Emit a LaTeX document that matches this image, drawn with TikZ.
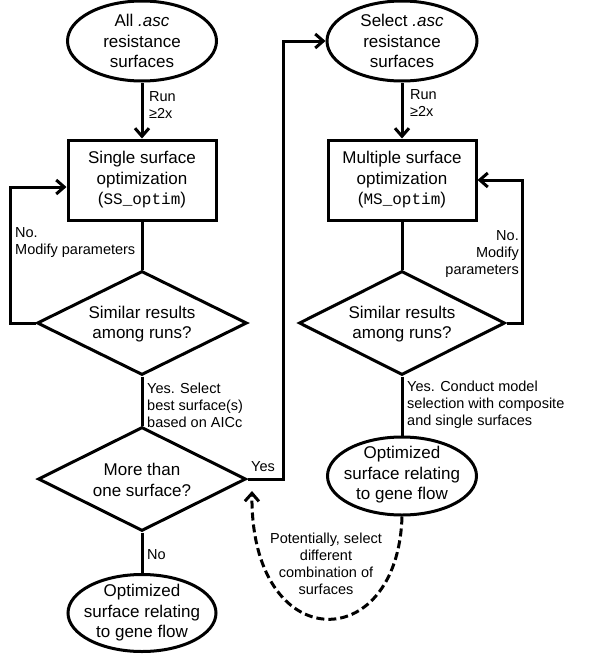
\documentclass[tikz,border=0pt]{standalone}
\usepackage{fontspec}
\setmainfont{Liberation Sans}
\setmonofont{Liberation Mono}
\usetikzlibrary{shapes.geometric,arrows.meta}
\newcommand\mycode[1]{{\fontsize{16}{20.5}\selectfont\ttfamily #1}}
\begin{document}
\begin{tikzpicture}[x=1pt,y=-1pt,
  lw/.style={line width=3pt},
  oval/.style={draw,lw,ellipse,inner sep=0pt},
  procbox/.style={draw,lw,rectangle,minimum width=148pt,minimum height=80pt,inner sep=0pt,align=center,font=\fontsize{17}{20.5}\selectfont},
  decision/.style={draw,lw,diamond,inner sep=0pt,shape aspect=2},
  maintext/.style={align=center,font=\fontsize{17}{20.5}\selectfont,inner sep=0pt},
  lbl/.style={font=\fontsize{14.5}{17}\selectfont,inner sep=0pt},
  flow/.style={lw,-{Straight Barb[length=8pt,width=14pt]}},
  link/.style={lw},
  ]
\useasboundingbox (0,0) rectangle (591,656);
% left column
\node[oval,minimum width=149pt,minimum height=80pt] (e1) at (142,41) {};
\node[maintext] (e1t) at (142,41) {All \textit{.asc}\\resistance\\surfaces};
\node[procbox] (b1) at (142,180) {Single surface\\optimization\\(\mycode{SS\_optim})};
\node[decision,minimum width=210pt,minimum height=104pt] (d1) at (142,323) {};
\node[maintext] (d1t) at (142,324) {Similar results\\among runs?};
\node[decision,minimum width=208pt,minimum height=104pt] (d2) at (142,479) {};
\node[maintext] (d2t) at (142,480) {More than\\one surface?};
\node[oval,minimum width=148pt,minimum height=77pt] (e3) at (142,613) {};
\node[maintext] (e3t) at (142,613) {Optimized\\surface relating\\to gene flow};
% right column
\node[oval,minimum width=150pt,minimum height=80pt] (e2) at (402,41) {};
\node[maintext] (e2t) at (402,41) {Select \textit{.asc}\\resistance\\surfaces};
\node[procbox] (b2) at (402,180) {Multiple surface\\optimization\\(\mycode{MS\_optim})};
\node[decision,minimum width=206pt,minimum height=104pt] (d3) at (402,323) {};
\node[maintext] (d3t) at (402,324) {Similar results\\among runs?};
\node[oval,minimum width=149pt,minimum height=78pt] (e4) at (402,476) {};
\node[maintext] (e4t) at (402,475) {Optimized\\surface relating\\to gene flow};
% connectors
\draw[flow] (e1) -- (b1);
\draw[link] (b1) -- (d1);
\draw[link] (d1) -- (d2);
\draw[link] (d2) -- (e3);
\draw[flow] (e2) -- (b2);
\draw[link] (b2) -- (d3);
\draw[link] (d3) -- (e4);
\coordinate (lp) at (10,187);
\draw[flow] (d1.west) -| (lp) -- (lp -| b1.west);
\coordinate (rp) at (522,180);
\draw[flow] (d3.east) -| (rp) -- (b2.east);
\coordinate (yp) at (283,41);
\draw[flow] (d2.east) -| (yp) -- (e2.west);
\coordinate (dt) at (252,491);
\draw[flow,dash pattern=on 8pt off 4pt] (e4.south) .. controls (398,657) and (250,657) .. (dt);
% labels
\node[lbl,anchor=west,align=left] (r1) at (149,105) {Run\\≥2x};
\node[lbl,anchor=west,align=left] (r2) at (410,103) {Run\\≥2x};
\node[lbl,anchor=west,align=left] (n1) at (15,243) {No.\\Modify parameters};
\node[lbl,anchor=east,align=right] (n2) at (519,254) {No.\\Modify\\parameters};
\node[lbl,anchor=west,align=left] (y1) at (147,405) {Yes. Select\\best surface(s)\\based on AICc};
\node[lbl] (y2) at (263,467) {Yes};
\node[lbl,anchor=west] (no2) at (147,555) {No};
\node[lbl,anchor=west,align=left] (y3) at (407,405) {Yes. Conduct model\\selection with composite\\and single surfaces};
\node[lbl,align=center] (pt) at (326,564) {Potentially, select\\different\\combination of\\surfaces};
\end{tikzpicture}
\end{document}
